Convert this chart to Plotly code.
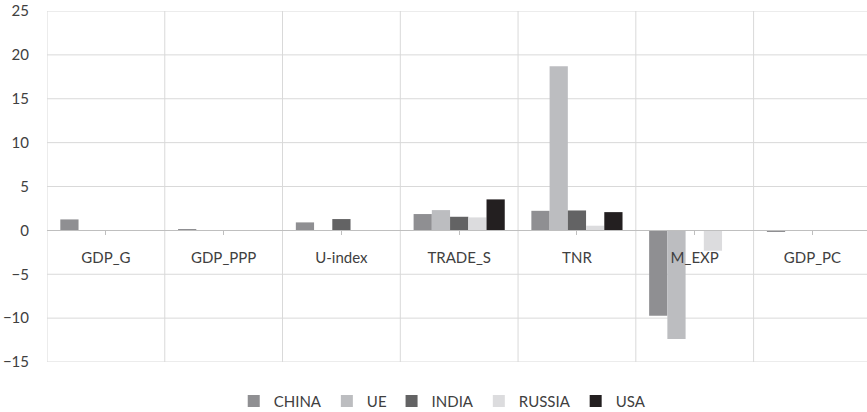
import plotly.graph_objects as go

# Indicators (categories) and the change per economy
categories = ["GDP_G", "GDP_PPP", "U-index", "TRADE_S", "TNR", "M_EXP", "GDP_PC"]
series_names = ["CHINA", "UE", "INDIA", "RUSSIA", "USA"]
china = [1.25, 0.1, 0.91, 1.86, 2.23, -9.72, -0.08]
ue = [0.0, 0.0, 0.0, 2.31, 18.7, -12.38, 0.0]
india = [0.0, 0.0, 1.29, 1.55, 2.27, 0.0, 0.0]
russia = [0.0, 0.0, 0.0, 1.48, 0.53, -2.32, 0.0]
usa = [0.0, 0.0, 0.0, 3.53, 2.08, 0.0, 0.0]
y_ticks = [-15, -10, -5, 0, 5, 10, 15, 20, 25]

series_values = [china, ue, india, russia, usa]
colors = ["#8f8f92", "#bcbdc0", "#636364", "#dcdcde", "#231f20"]

fig = go.Figure()
for name, vals, col in zip(series_names, series_values, colors):
    fig.add_trace(go.Bar(x=categories, y=vals, name=name, marker_color=col,
                         marker_line_width=0))

y_min, y_max = -15, 25
grid_col = "#d9d9d9"
font_col = "#404040"
font_fam = "Lato, Open Sans, sans-serif"

shapes = []
# vertical separators between indicator groups
for i in range(len(categories) + 1):
    shapes.append(dict(type="line", xref="x", yref="y", x0=i - 0.5, x1=i - 0.5,
                       y0=y_min, y1=y_max, line=dict(color=grid_col, width=1),
                       layer="below"))
# horizontal gridlines at each value tick (except the axis line at 0)
for v in y_ticks:
    if v == 0:
        continue
    shapes.append(dict(type="line", xref="paper", yref="y", x0=0, x1=1,
                       y0=v, y1=v, line=dict(color=grid_col, width=1),
                       layer="below"))

fig.update_layout(
    width=867, height=412,
    margin=dict(l=47, r=0, t=11, b=50, autoexpand=False),
    paper_bgcolor="white", plot_bgcolor="white",
    barmode="group", bargap=0.226, bargroupgap=0,
    font=dict(family=font_fam, size=15, color=font_col),
    shapes=shapes,
    showlegend=True,
    legend=dict(orientation="h", x=0.482, xanchor="center", y=-0.112, yanchor="middle",
                font=dict(size=15, color=font_col), itemwidth=30,
                traceorder="normal", tracegroupgap=0),
    xaxis=dict(type="category", range=[-0.5, 6.463],
               anchor="free", position=(0 - y_min) / (y_max - y_min),
               showline=True, linecolor="#bfbfbf", linewidth=1,
               ticks="outside", ticklen=4, tickcolor="#bfbfbf",
               showgrid=False, ticklabelstandoff=10,
               tickfont=dict(size=15, color=font_col)),
    yaxis=dict(range=[y_min, y_max], tickvals=y_ticks, showgrid=False,
               zeroline=False, showline=False, ticks="", ticklabelstandoff=17,
               tickfont=dict(size=15, color=font_col)),
)

fig.write_html("out.html")
